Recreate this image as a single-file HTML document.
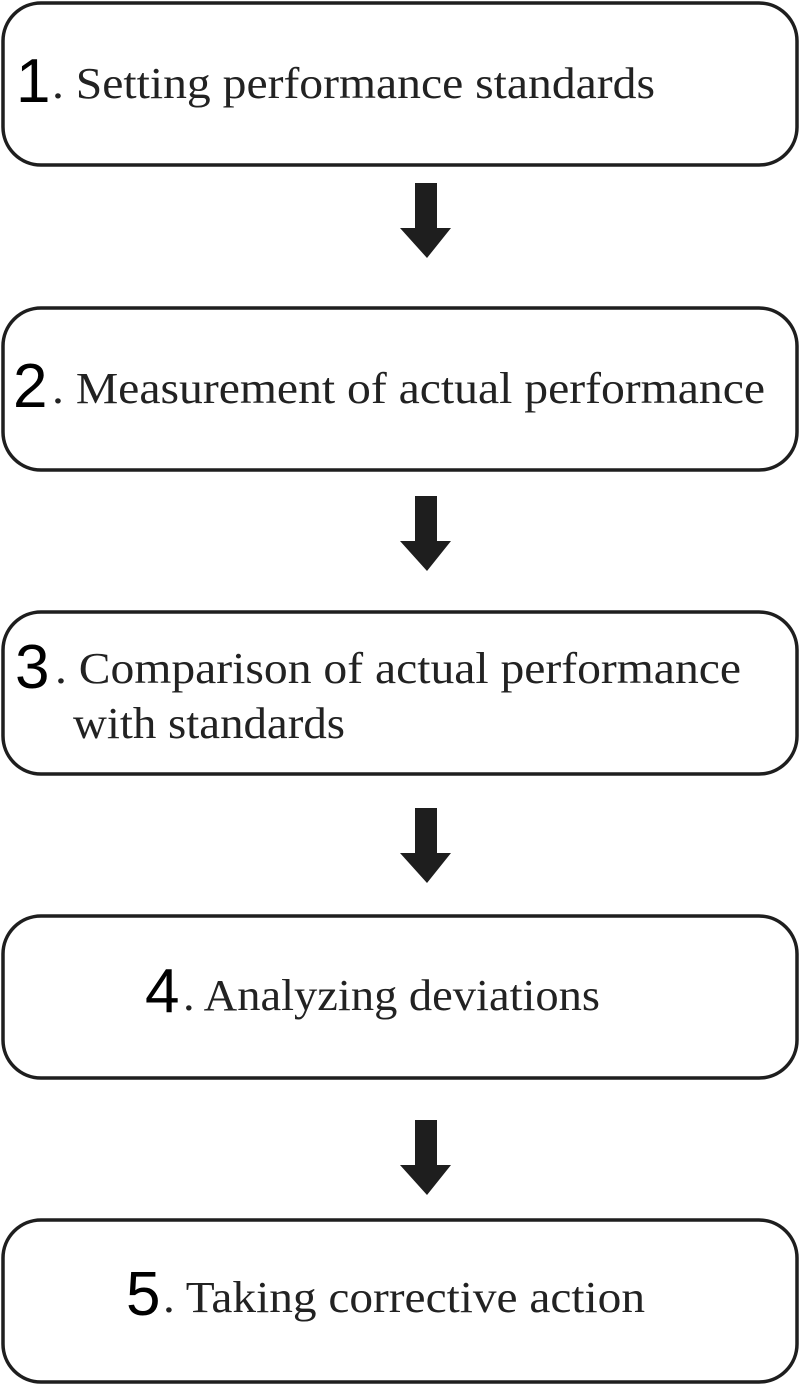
<!DOCTYPE html>
<html><head><meta charset="utf-8"><style>html,body{margin:0;padding:0;background:#fff}svg{display:block}</style></head>
<body>
<svg width="800" height="1386" viewBox="0 0 800 1386" xmlns="http://www.w3.org/2000/svg">
<g fill="none" stroke="#1e1e1e" stroke-width="3.5">
<rect x="3" y="3" width="794" height="162" rx="38"/>
<rect x="3" y="308" width="794" height="162" rx="38"/>
<rect x="3" y="612" width="794" height="162" rx="38"/>
<rect x="3" y="916" width="794" height="162" rx="38"/>
<rect x="3" y="1220" width="794" height="162" rx="38"/>
</g>
<g fill="#1e1e1e">
<path d="M415 183H437V228H451L427 258L400 228H415Z"/>
<path d="M415 496H437V541H451L427 571L400 541H415Z"/>
<path d="M415 808H437V853H451L427 883L400 853H415Z"/>
<path d="M415 1120H437V1165H451L427 1195L400 1165H415Z"/>
</g>
<g font-family="Liberation Sans, sans-serif" font-size="62" fill="#000">
<text x="16" y="102">1</text>
<text x="13" y="407">2</text>
<text x="15" y="688">3</text>
<text x="145" y="1012">4</text>
<text x="126" y="1315">5</text>
</g>
<g font-family="Liberation Serif, serif" font-size="44" fill="#222">
<text x="52" y="98" textLength="603" lengthAdjust="spacingAndGlyphs">. Setting performance  standards</text>
<text x="52" y="403" textLength="713" lengthAdjust="spacingAndGlyphs">. Measurement of actual performance</text>
<text x="55" y="683" textLength="686" lengthAdjust="spacingAndGlyphs">. Comparison of actual performance</text>
<text x="73" y="738" textLength="272" lengthAdjust="spacingAndGlyphs">with standards</text>
<text x="183" y="1010" textLength="417" lengthAdjust="spacingAndGlyphs">. Analyzing deviations</text>
<text x="163" y="1312" textLength="482" lengthAdjust="spacingAndGlyphs">. Taking corrective action</text>
</g>
</svg>
</body></html>
